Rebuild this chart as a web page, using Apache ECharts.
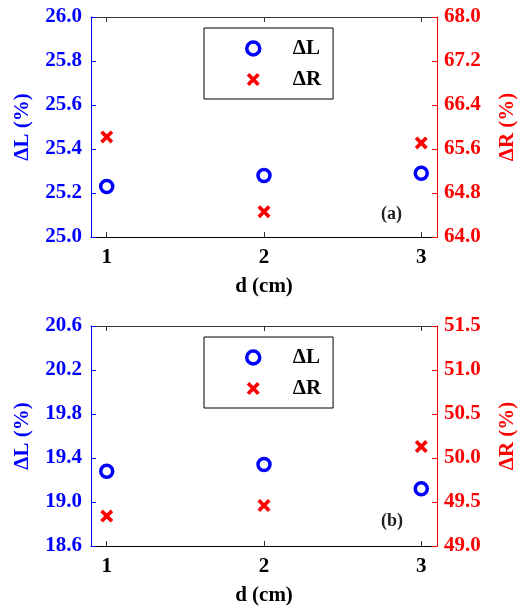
<!DOCTYPE html>
<html>
<head>
<meta charset="utf-8">
<script src="https://cdn.jsdelivr.net/npm/echarts@6/dist/echarts.min.js"></script>
<style>
  html, body { margin: 0; padding: 0; background: #fff; }
  #main { width: 526px; height: 610px; }
</style>
</head>
<body>
<div id="main"></div>
<script>
// data
var dValues = [1, 2, 3];
var dL_a = [25.23, 25.28, 25.29];
var dR_a = [65.82, 64.46, 65.71];
var dL_b = [19.28, 19.34, 19.12];
var dR_b = [49.34, 49.46, 50.13];

// tick labels
var xTicks = [1, 2, 3];
var yL_a_ticks = [25.0, 25.2, 25.4, 25.6, 25.8, 26.0];
var yR_a_ticks = [64.0, 64.8, 65.6, 66.4, 67.2, 68.0];
var yL_b_ticks = [18.6, 19.0, 19.4, 19.8, 20.2, 20.6];
var yR_b_ticks = [49.0, 49.5, 50.0, 50.5, 51.0, 51.5];

var FONT = '"Liberation Serif", "Times New Roman", serif';
var FS = 21;
var BLUE = '#0000ff';
var RED = '#ff0000';
var CROSS = 'path://M0,2.4L2.4,0L6,3.6L9.6,0L12,2.4L8.4,6L12,9.6L9.6,12L6,8.4L2.4,12L0,9.6L3.6,6Z';

function pairs(xs, ys) {
  return xs.map(function (x, i) { return [x, ys[i]]; });
}

var chart = echarts.init(document.getElementById('main'));

function xBottom(grid) {
  return {
    type: 'value', gridIndex: grid, position: 'bottom',
    min: 0.9, max: 3.1,
    name: 'd (cm)', nameLocation: 'middle', nameGap: 39,
    nameTextStyle: { fontFamily: FONT, fontWeight: 'bold', fontSize: FS, color: '#000' },
    axisLine: { lineStyle: { color: '#000', width: 1 } },
    axisTick: { inside: true, length: 5, customValues: xTicks, lineStyle: { color: '#333' } },
    axisLabel: { customValues: xTicks, margin: 10, fontFamily: FONT, fontWeight: 'bold', fontSize: FS, color: '#000' },
    splitLine: { show: false }
  };
}

function xTop(grid) {
  return {
    type: 'value', gridIndex: grid, position: 'top',
    min: 0.9, max: 3.1,
    axisLine: { lineStyle: { color: '#333', width: 1 } },
    axisTick: { inside: true, length: 5, customValues: xTicks, lineStyle: { color: '#333' } },
    axisLabel: { show: false },
    splitLine: { show: false }
  };
}

function yAxis(grid, pos, ticks, name, color, gap) {
  return {
    type: 'value', gridIndex: grid, position: pos,
    min: ticks[0], max: ticks[ticks.length - 1],
    name: name, nameLocation: 'middle', nameGap: gap, nameRotate: 90,
    nameTextStyle: { fontFamily: FONT, fontWeight: 'bold', fontSize: FS, color: color },
    axisLine: { show: true, lineStyle: { color: color, width: 1 } },
    axisTick: { show: true, inside: true, length: 5, customValues: ticks, lineStyle: { color: color } },
    axisLabel: {
      customValues: ticks, margin: pos === 'left' ? 9 : 7,
      fontFamily: FONT, fontWeight: 'bold', fontSize: FS, color: color,
      formatter: function (v) { return v.toFixed(1); }
    },
    splitLine: { show: false }
  };
}

function legend(top) {
  return {
    orient: 'vertical', left: 204, top: top,
    data: ['ΔL', 'ΔR'],
    borderColor: '#000', borderWidth: 1,
    padding: [10, 12, 9, 41],
    itemWidth: 13, itemHeight: 13, itemGap: 10,
    selectedMode: false,
    itemStyle: { borderWidth: 3.5 },
    textStyle: { fontFamily: FONT, fontWeight: 'bold', fontSize: FS, color: '#000', lineHeight: 20, padding: [0, 0, 0, 28] }
  };
}

var circleStyle = { color: '#fff', borderColor: BLUE, borderWidth: 3.5, opacity: 1 };
var crossStyle = { color: RED, opacity: 1 };

option = {
  animation: false,
  grid: [
    { left: 91, top: 17, width: 355, height: 220 },
    { left: 91, top: 326, width: 355, height: 220 }
  ],
  xAxis: [xBottom(0), xTop(0), xBottom(1), xTop(1)],
  yAxis: [
    yAxis(0, 'left', yL_a_ticks, 'ΔL (%)', BLUE, 58),
    yAxis(0, 'right', yR_a_ticks, 'ΔR (%)', RED, 60),
    yAxis(1, 'left', yL_b_ticks, 'ΔL (%)', BLUE, 58),
    yAxis(1, 'right', yR_b_ticks, 'ΔR (%)', RED, 60)
  ],
  legend: [legend(28), legend(337)],
  series: [
    { name: 'ΔL', type: 'scatter', xAxisIndex: 0, yAxisIndex: 0, symbol: 'circle', symbolSize: 12,
      itemStyle: circleStyle, data: pairs(dValues, dL_a) },
    { name: 'ΔR', type: 'scatter', xAxisIndex: 0, yAxisIndex: 1, symbol: CROSS, symbolSize: 13,
      itemStyle: crossStyle, data: pairs(dValues, dR_a) },
    { name: 'ΔL', type: 'scatter', xAxisIndex: 2, yAxisIndex: 2, symbol: 'circle', symbolSize: 12,
      itemStyle: circleStyle, data: pairs(dValues, dL_b) },
    { name: 'ΔR', type: 'scatter', xAxisIndex: 2, yAxisIndex: 3, symbol: CROSS, symbolSize: 13,
      itemStyle: crossStyle, data: pairs(dValues, dR_b) }
  ],
  graphic: [
    { type: 'text', left: 381, top: 205,
      style: { text: '(a)', font: 'bold 18px ' + FONT, fill: '#222' } },
    { type: 'text', left: 381, top: 512,
      style: { text: '(b)', font: 'bold 18px ' + FONT, fill: '#222' } }
  ]
};
chart.setOption(option);
</script>
</body>
</html>
